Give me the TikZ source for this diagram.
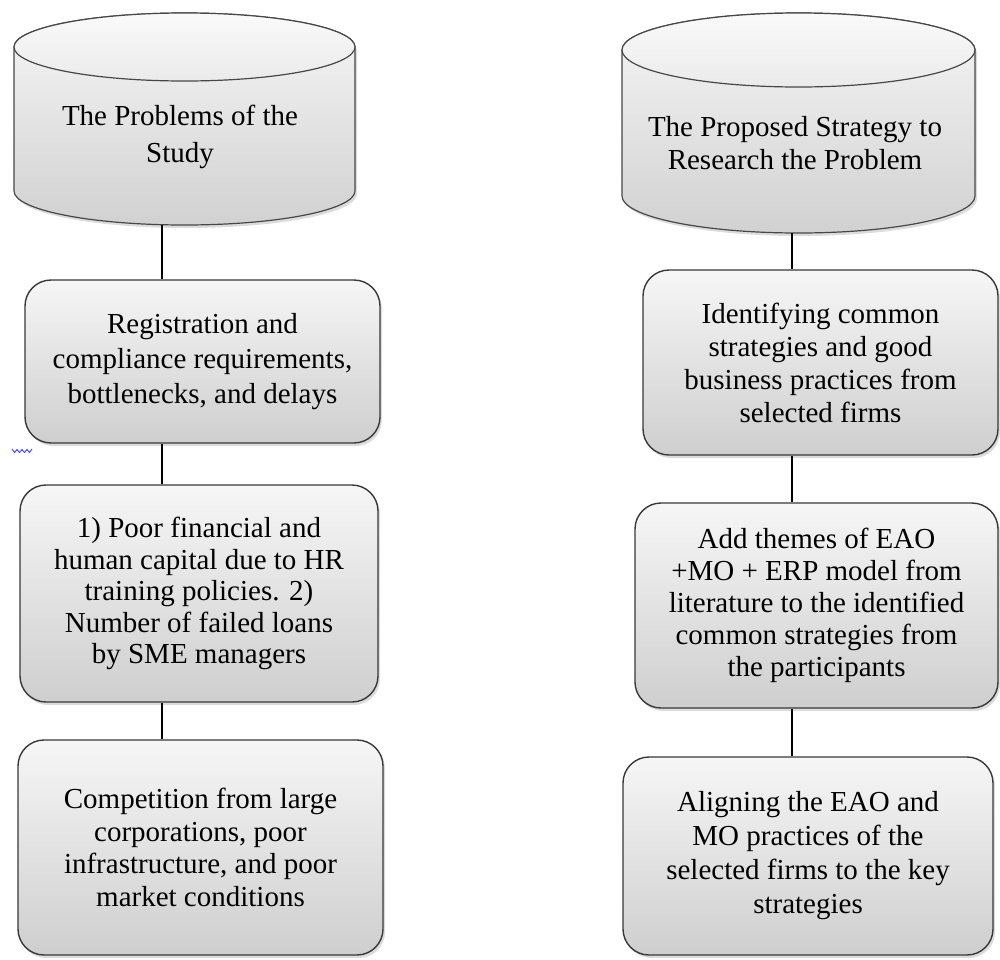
\documentclass[tikz,border=0pt]{standalone}
\usepackage{fontspec}
\setmainfont{Liberation Serif}
\usetikzlibrary{shadows}
\begin{document}
\begin{tikzpicture}[x=1pt,y=1pt,
  shad/.style={drop shadow={opacity=0.28,shadow xshift=2pt,shadow yshift=-3pt}},
  box/.style={draw=black!78, line width=1.4pt, rounded corners=26pt,
    top color=gray!7, bottom color=gray!38, shad, inner sep=0pt,
    align=center, text=black},
  cylbody/.style={draw=black!72, line width=1.2pt, top color=gray!7, bottom color=gray!36, shad},
  cyltop/.style={draw=black!72, line width=1.2pt, top color=gray!4, bottom color=gray!16},
  txt/.style={align=center, text=black},
  link/.style={line width=1.4pt, draw=black}]
\useasboundingbox (0,0) rectangle (1000,-959);

% ---------- left cylinder ----------
\path[cylbody] (14,-47) -- (14,-191) arc[start angle=180,end angle=360,x radius=170.5,y radius=34]
  -- (355,-47) arc[start angle=0,end angle=180,x radius=170.5,y radius=34] -- cycle;
\path[cyltop] (184.5,-47) ellipse[x radius=170.5,y radius=34];
\node[txt, font=\fontsize{29}{37}\selectfont] (cylL) at (180,-137) {The Problems of the\\Study};
\coordinate (cylLb) at (184.5,-225);

% ---------- right cylinder ----------
\path[cylbody] (622,-50) -- (622,-196) arc[start angle=180,end angle=360,x radius=176.5,y radius=37]
  -- (975,-50) arc[start angle=0,end angle=180,x radius=176.5,y radius=37] -- cycle;
\path[cyltop] (798.5,-50) ellipse[x radius=176.5,y radius=37];
\node[txt, font=\fontsize{29}{33}\selectfont] (cylR) at (795,-143) {The Proposed Strategy to\\Research the Problem};
\coordinate (cylRb) at (798.5,-233);

% ---------- left boxes ----------
\node[box, minimum width=355, minimum height=163, font=\fontsize{29}{35}\selectfont] (L1) at (202.5,-361.5)
  {Registration and\\compliance requirements,\\bottlenecks, and delays};
\node[box, minimum width=358, minimum height=217, font=\fontsize{29}{31.5}\selectfont] (L2) at (199,-593.5)
  {1) Poor financial and\\human capital due to HR\\training policies. 2)\\Number of failed loans\\by SME managers};
\node[box, minimum width=365, minimum height=215, font=\fontsize{29}{32.5}\selectfont] (L3) at (200.5,-847.5)
  {Competition from large\\corporations, poor\\infrastructure, and poor\\market conditions};

% ---------- right boxes ----------
\node[box, minimum width=355, minimum height=185, font=\fontsize{29}{33}\selectfont] (R1) at (820.5,-362.5)
  {Identifying common\\strategies and good\\business practices from\\selected firms};
\node[box, minimum width=363, minimum height=205, font=\fontsize{29}{32}\selectfont] (R2) at (816.5,-605.5)
  {Add themes of EAO\\+MO + ERP model from\\literature to the identified\\common strategies from\\the participants};
\node[box, minimum width=370, minimum height=198, font=\fontsize{29}{34}\selectfont] (R3) at (808,-856)
  {Aligning the EAO and\\MO practices of the\\selected firms to the key\\strategies};

% ---------- connectors ----------
\coordinate (cL) at (162,0);
\coordinate (cR) at (792,0);
\draw[link] (cylLb -| cL) -- (L1.north -| cL);
\draw[link] (L1.south -| cL) -- (L2.north -| cL);
\draw[link] (L2.south -| cL) -- (L3.north -| cL);
\draw[link] (cylRb -| cR) -- (R1.north -| cR);
\draw[link] (R1.south -| cR) -- (R2.north -| cR);
\draw[link] (R2.south -| cR) -- (R3.north -| cR);

% ---------- small blue squiggle ----------
\draw[blue!75!white, line width=0.9pt, line join=round]
  (12,-449) -- (14.5,-452.5) -- (17,-449.5) -- (19.5,-452.5) -- (22,-449.5) -- (24.5,-452.5) -- (27,-449.5) -- (29.5,-452.5) -- (32,-449);
\end{tikzpicture}
\end{document}
